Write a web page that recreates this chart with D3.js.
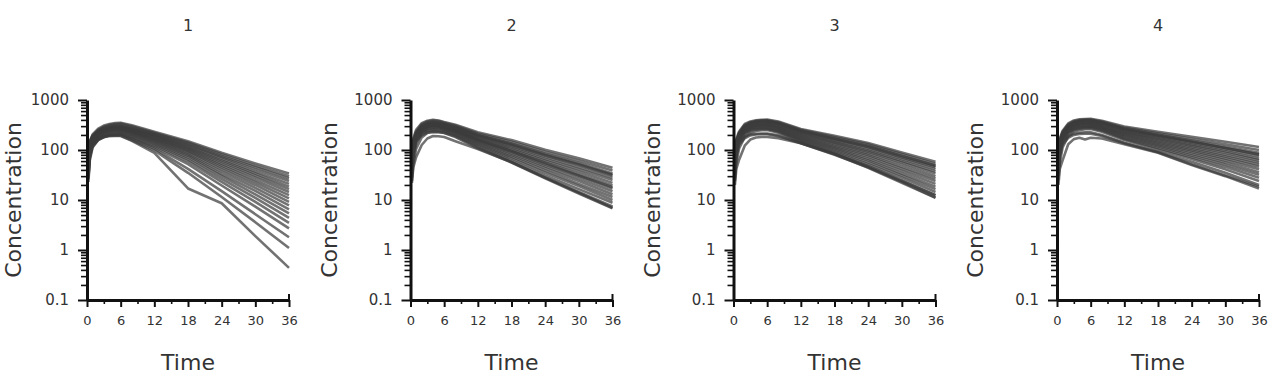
<!DOCTYPE html>
<html>
<head>
<meta charset="utf-8">
<script src="https://cdn.jsdelivr.net/npm/d3@7"></script>
<style>
body { margin: 0; background: #fff; }
svg { display: block; font-family: "DejaVu Sans", Verdana, sans-serif; }
</style>
</head>
<body>
<div id="chart"></div>
<script>

// sampling times (h), shared by all panels
var times = [0.25, 0.5, 1, 2, 3, 4, 5, 6, 8, 12, 18, 24, 30, 36];

var panelTitles = ['1', '2', '3', '4'];
var xTickValues = [0, 6, 12, 18, 24, 30, 36];
var yTickValues = [0.1, 1, 10, 100, 1000];
var yTickLabels = ['0.1', '1', '10', '100', '1000'];

// concentration profiles (one row per subject)
var conc1 = [
  [95,150,205,268,308,332,345,352,312,232,150,88,54,34],
  [78,138,192,252,292,318,332,338,298,222,142,82,49,30],
  [62,122,182,242,282,306,320,324,286,214,135,76,45,27],
  [100,148,196,246,276,292,302,306,272,206,128,72,41,24],
  [84,140,188,236,266,282,292,296,262,198,122,67,37,21],
  [46,102,162,222,262,286,296,298,262,194,115,62,34,18.5],
  [72,128,176,228,258,273,283,286,250,186,110,58,31,16.5],
  [36,88,148,208,243,265,275,280,244,180,104,53,28,14.5],
  [58,116,168,218,248,262,270,272,236,172,99,49,25,12.5],
  [56,112,162,212,242,258,265,268,230,166,94,45,22.5,10.8],
  [26,72,132,192,228,248,256,260,224,160,88,41,20,9.2],
  [88,132,172,212,234,247,252,254,218,152,82,37,17.5,7.8],
  [42,92,142,188,218,233,240,244,208,146,77,33,15.2,6.5],
  [66,108,152,192,214,227,232,234,200,138,71,30,13,5.4],
  [31,77,127,172,202,218,224,228,192,130,65,26.5,11,4.4],
  [52,97,138,178,198,208,212,216,182,122,59,23,9.2,3.5],
  [23,62,112,158,183,197,202,206,172,114,52,19.5,7.4,2.7],
  [40,85,130,170,190,200,204,205,168,106,42,15,5.2,1.8],
  [28,70,118,160,180,190,194,195,156,98,35,11.5,3.6,1.1],
  [47,82,122,162,182,192,193,190,152,88,17,8.6,1.9,0.44]
];

var conc2 = [
  [100,172,252,345,385,400,390,362,320,226,158,101,68,44],
  [82,155,235,330,372,388,378,352,308,214,146,92,61,39],
  [65,138,218,312,358,372,362,338,294,202,135,84,55,34],
  [78,142,212,296,336,350,342,322,284,198,130,80,52,32],
  [92,150,222,300,340,352,344,322,280,192,126,78,50,31],
  [52,118,198,290,335,350,340,318,274,186,119,72,45,28],
  [74,132,205,280,318,332,325,305,264,177,111,66,41,25],
  [40,98,175,268,312,326,318,298,256,170,104,61,37,22],
  [60,120,190,262,298,310,304,286,246,162,97,56,33,19.5],
  [44,108,180,256,296,308,302,286,246,160,95,54,31,18],
  [33,82,155,245,290,305,298,280,240,154,91,51,30,17],
  [86,140,196,256,284,292,286,270,232,148,85,47,27,15],
  [46,104,170,236,270,282,276,262,224,142,79,43,24,13],
  [28,66,132,220,262,276,272,256,216,134,73,39,21,11.5],
  [70,122,174,222,250,258,254,242,206,128,68,35,19,10],
  [38,88,148,206,240,250,246,236,198,120,62,31,16.5,8.8],
  [24,52,105,178,220,232,230,222,188,114,58,28,14.5,7.4],
  [55,100,150,196,224,230,226,218,182,108,56,27,13.5,6.8],
  [22,45,72,126,170,190,188,182,150,104,57,28,14,7]
];

var conc3 = [
  [100,166,234,332,372,392,402,405,372,264,192,138,89,58],
  [84,150,222,318,360,382,392,394,360,254,182,130,83,53],
  [80,144,218,300,345,366,375,378,344,240,168,118,75,48],
  [66,136,210,305,350,372,380,382,348,244,172,122,77,49],
  [92,148,212,292,334,352,360,362,330,232,162,113,71,45],
  [52,120,196,284,330,350,358,358,324,224,154,106,66,41],
  [75,134,200,272,312,330,338,340,306,214,145,98,60,37],
  [40,100,178,264,308,326,334,335,300,206,138,92,56,34],
  [60,118,186,256,294,312,318,320,286,196,130,85,51,30],
  [33,84,160,244,286,304,310,312,278,188,122,79,46,27],
  [88,138,192,250,282,296,302,302,270,180,115,73,42,24],
  [46,104,170,232,268,284,290,291,258,172,108,67,38,21],
  [28,68,136,214,256,272,278,280,248,164,102,62,34,18.5],
  [70,124,178,226,254,266,270,270,240,158,96,57,31,16.5],
  [38,90,152,206,242,256,262,262,232,150,90,52,28,14.5],
  [24,54,108,180,222,240,248,250,222,144,85,48,25,12.5],
  [56,100,145,185,205,212,214,214,196,136,80,45,23,11.2],
  [34,78,128,172,196,204,206,206,188,138,84,46,24,12.5],
  [20,42,64,122,162,178,182,182,172,136,82,44,22,11]
];

var conc4 = [
  [100,170,242,340,390,410,418,420,386,294,232,184,146,115],
  [85,155,228,326,376,398,406,408,372,280,216,168,130,100],
  [82,148,224,310,358,380,390,392,356,262,196,148,110,82],
  [68,140,215,312,362,386,395,398,360,268,204,155,118,88],
  [92,150,218,300,345,368,378,380,344,256,193,146,110,80],
  [54,122,200,292,340,362,372,374,336,248,185,138,102,74],
  [76,136,204,282,326,346,355,358,322,236,174,128,94,67],
  [42,102,182,274,320,340,350,352,314,228,166,121,88,62],
  [62,120,190,266,306,325,334,336,300,218,156,112,80,56],
  [34,86,164,254,300,318,328,330,292,208,148,105,74,51],
  [90,140,196,258,290,306,314,315,282,200,140,98,68,46],
  [48,106,174,240,278,296,304,306,272,192,132,91,62,41],
  [30,70,140,222,264,282,292,294,262,182,124,84,56,36],
  [72,126,180,232,264,278,286,288,254,174,117,78,51,32],
  [39,92,156,214,250,266,274,276,244,166,109,72,46,28],
  [25,55,112,188,232,250,260,262,232,158,102,66,41,24],
  [58,100,148,188,212,222,226,226,200,140,92,58,35,20],
  [35,80,130,175,200,210,212,212,190,136,90,52,31,18.5],
  [20,42,62,130,165,175,162,176,170,130,88,50,30,17]
];

var panels = [conc1, conc2, conc3, conc4];

var width = 1269, height = 383;
var panelLeft = [87, 410.5, 733.5, 1057];
var plotW = 202;
var plotTop = 100, plotBottom = 300;

var svg = d3.select('#chart').append('svg')
    .attr('width', width)
    .attr('height', height);

var y = d3.scaleLog().domain([0.1, 1000]).range([plotBottom, plotTop]);
var x = d3.scaleLinear().domain([0, 36]).range([0, plotW]);

var yMinor = y.ticks().filter(function (v) { return yTickValues.indexOf(v) < 0; });
var xMinor = d3.range(3, 36, 6);

var line = d3.line()
    .x(function (d, i) { return x(times[i]); })
    .y(function (d) { return y(d); });

panels.forEach(function (data, p) {

    var g = svg.append('g')
        .attr('transform', `translate(${panelLeft[p]},0)`);

    // title
    g.append('text')
        .attr('x', plotW / 2)
        .attr('y', 31)
        .attr('text-anchor', 'middle')
        .style('font-size', '16px')
        .style('fill', '#333')
        .text(panelTitles[p]);

    // spaghetti
    g.append('g').selectAll('path')
        .data(data)
        .enter()
        .append('path')
        .attr('d', line)
        .attr('fill', 'none')
        .attr('stroke', '#3c3c3c')
        .attr('stroke-opacity', 0.72)
        .attr('stroke-linejoin', 'round')
        .attr('stroke-width', 2.6);

    // y axis
    var yAxis = g.append('g')
        .call(d3.axisLeft(y).tickValues(yTickValues).tickSize(9).tickSizeOuter(0)
            .tickFormat(function (d, i) { return yTickLabels[i]; }));
    yAxis.select('.domain').attr('stroke', '#111').attr('stroke-width', 3);
    yAxis.selectAll('.tick line').attr('stroke', '#111').attr('stroke-width', 2);
    yAxis.selectAll('.tick text')
        .attr('x', -18)
        .style('font-size', '15px')
        .style('font-family', '"DejaVu Sans", Verdana, sans-serif')
        .style('fill', '#333');

    var yAxisMinor = g.append('g')
        .call(d3.axisLeft(y).tickValues(yMinor).tickSize(6).tickSizeOuter(0).tickFormat(''));
    yAxisMinor.select('.domain').remove();
    yAxisMinor.selectAll('.tick line').attr('stroke', '#111').attr('stroke-width', 1.6);

    // x axis
    var xAxis = g.append('g')
        .attr('transform', `translate(0,${plotBottom})`)
        .call(d3.axisBottom(x).tickValues(xTickValues).tickSize(7).tickSizeOuter(0));
    xAxis.select('.domain').attr('stroke', '#111').attr('stroke-width', 3);
    xAxis.selectAll('.tick line').attr('stroke', '#111').attr('stroke-width', 2);
    xAxis.selectAll('.tick text')
        .attr('y', 16)
        .style('font-size', '13px')
        .style('font-family', '"DejaVu Sans", Verdana, sans-serif')
        .style('fill', '#333');

    var xAxisMinor = g.append('g')
        .attr('transform', `translate(0,${plotBottom})`)
        .call(d3.axisBottom(x).tickValues(xMinor).tickSize(4).tickSizeOuter(0).tickFormat(''));
    xAxisMinor.select('.domain').remove();
    xAxisMinor.selectAll('.tick line').attr('stroke', '#111').attr('stroke-width', 1.6);

    // little upturn at the end of the time axis
    g.append('line')
        .attr('x1', x(36)).attr('x2', x(36))
        .attr('y1', plotBottom).attr('y2', plotBottom - 6)
        .attr('stroke', '#111').attr('stroke-width', 2);

    // axis labels (the first one is nudged right so it stays on the page)
    var labelOffset = p === 0 ? -66 : -74;
    g.append('text')
        .attr('transform', `translate(${labelOffset},${(plotTop + plotBottom) / 2}) rotate(-90)`)
        .attr('text-anchor', 'middle')
        .style('font-size', '22px')
        .style('fill', '#333')
        .text('Concentration');

    g.append('text')
        .attr('x', plotW / 2)
        .attr('y', 370)
        .attr('text-anchor', 'middle')
        .style('font-size', '22px')
        .style('fill', '#333')
        .text('Time');
});

</script>
</body>
</html>
